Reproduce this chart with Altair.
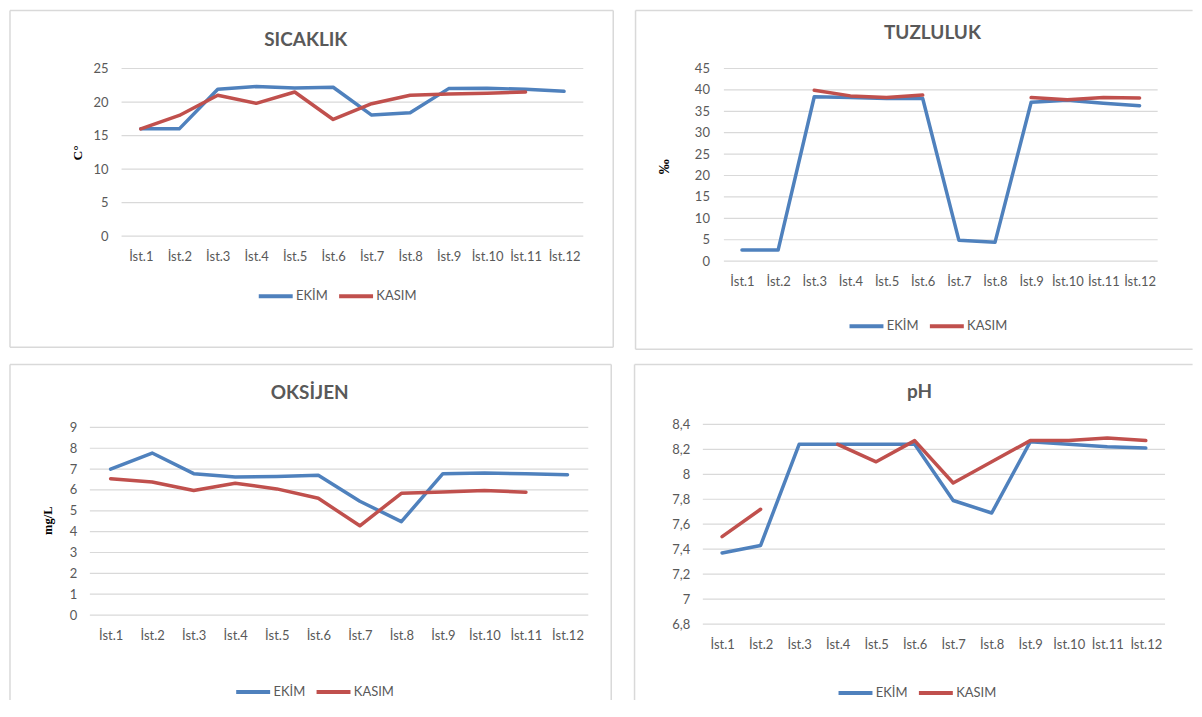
import altair as alt
import pandas as pd

# ---------------- data ----------------
stations = ["İst.1", "İst.2", "İst.3", "İst.4", "İst.5", "İst.6",
            "İst.7", "İst.8", "İst.9", "İst.10", "İst.11", "İst.12"]
series_names = ["EKİM", "KASIM"]

sicaklik_ekim = [16.0, 16.0, 21.9, 22.3, 22.1, 22.2, 18.05, 18.4, 22.0, 22.05, 21.9, 21.6]
sicaklik_kasim = [16.0, 18.0, 21.0, 19.8, 21.5, 17.4, 19.75, 21.0, 21.2, 21.3, 21.5, None]

tuzluluk_ekim = [2.6, 2.6, 38.4, 38.2, 38.0, 38.0, 4.9, 4.4, 37.1, 37.6, 36.9, 36.3]
tuzluluk_kasim = [None, None, 39.9, 38.6, 38.2, 38.8, None, None, 38.2, 37.7, 38.2, 38.1]

oksijen_ekim = [7.0, 7.77, 6.78, 6.62, 6.65, 6.7, 5.46, 4.48, 6.78, 6.81, 6.78, 6.73]
oksijen_kasim = [6.54, 6.38, 5.97, 6.32, 6.05, 5.6, 4.28, 5.84, 5.9, 5.97, 5.89, None]

ph_ekim = [7.37, 7.43, 8.24, 8.24, 8.24, 8.24, 7.79, 7.69, 8.26, 8.24, 8.22, 8.21]
ph_kasim = [7.50, 7.72, None, 8.24, 8.10, 8.27, 7.93, 8.10, 8.27, 8.27, 8.29, 8.27]

sicaklik_ticks = [0, 5, 10, 15, 20, 25]
tuzluluk_ticks = [0, 5, 10, 15, 20, 25, 30, 35, 40, 45]
oksijen_ticks = [0, 1, 2, 3, 4, 5, 6, 7, 8, 9]
ph_ticks = [6.8, 7.0, 7.2, 7.4, 7.6, 7.8, 8.0, 8.2, 8.4]

# ---------------- styles ----------------
BLUE = "#4F81BD"
RED = "#C0504D"
GRID = "#D9D9D9"
BORDER = "#D9D9D9"
TEXT = "#595959"
FONT = "Lato"
SERIF = "Liberation Serif"

one = pd.DataFrame({"k": [0]})


def long_df(ekim, kasim):
    rows = []
    for name, vals in zip(series_names, [ekim, kasim]):
        for st, v in zip(stations, vals):
            rows.append({"station": st, "series": name, "value": v})
    return pd.DataFrame(rows)


def hrule(x1, x2, y):
    return alt.Chart(one).mark_rule(color=BORDER, strokeWidth=1.5).encode(
        x=alt.value(x1), x2=alt.value(x2), y=alt.value(y))


def vrule(x, y1, y2):
    return alt.Chart(one).mark_rule(color=BORDER, strokeWidth=1.5).encode(
        x=alt.value(x), y=alt.value(y1), y2=alt.value(y2))


def panel(df, ticks, view_w, view_h, xrange, yrange, domain, label_pad,
          title, title_xy, ytitle, ytitle_xy, ytitle_size, legend_xy, borders,
          fmt_comma=False):
    label_expr = ("replace(format(datum.value, '.1~f'), '.', ',')" if fmt_comma
                  else "format(datum.value, '~g')")
    axis_kw = dict(values=ticks, grid=False, labelPadding=label_pad, labelExpr=label_expr)
    if ytitle:
        axis_kw.update(title=ytitle, titleX=ytitle_xy[0], titleY=ytitle_xy[1], titleAngle=270,
                       titleAlign="center", titleBaseline="middle", titleFontSize=ytitle_size)
    else:
        axis_kw.update(title=None)
    yscale = alt.Scale(domain=domain, range=yrange, nice=False, zero=False)
    yenc = alt.Y("value:Q", scale=yscale, axis=alt.Axis(**axis_kw))

    grid = alt.Chart(pd.DataFrame({"value": ticks})).mark_rule(
        color=GRID, strokeWidth=1.2
    ).encode(y=yenc, x=alt.value(xrange[0]), x2=alt.value(xrange[1]))

    lines = alt.Chart(df).mark_line(
        strokeWidth=3.5, strokeCap="round", strokeJoin="round",
        invalid="break-paths-show-domains"
    ).encode(
        x=alt.X("station:N", sort=stations, title=None,
                scale=alt.Scale(range=list(xrange)),
                axis=alt.Axis(labelAngle=0, labelOverlap=False, grid=False)),
        y=yenc,
        color=alt.Color("series:N",
                        scale=alt.Scale(domain=series_names, range=[BLUE, RED]),
                        legend=alt.Legend(orient="none", legendX=legend_xy[0], legendY=legend_xy[1],
                                          direction="horizontal", title=None,
                                          symbolType="M-3,0L3,0", symbolSize=128.4,
                                          symbolStrokeWidth=4, labelOffset=12.3,
                                          columnPadding=2.5, padding=0,
                                          labelFont=FONT, labelFontSize=13, labelColor=TEXT)),
    )
    ttl = alt.Chart(one).mark_text(
        text=title, font=FONT, fontSize=19, fontWeight="bold", color=TEXT,
        align="center", baseline="alphabetic"
    ).encode(x=alt.value(title_xy[0]), y=alt.value(title_xy[1]))
    return alt.layer(*borders, grid, ttl, lines).properties(width=view_w, height=view_h)


LEG = 11.33   # legend line starts this far left of legendX
LEGY = 7      # legend line centre sits this far below legendY

p1 = panel(long_df(sicaklik_ekim, sicaklik_kasim), sicaklik_ticks,
           495, 168, (31.75, 494.25), [168, 0], [0, 25], -18.25,
           "SICAKLIK", (216.25, -22.75), "C°", (-12.25, 84), 13.5,
           (166.85 + LEG, 227.25 - LEGY),
           [hrule(-80, 524.25, -58), hrule(-80, 524.25, 279.25),
            vrule(-80, -58, 279.25), vrule(524.25, -58, 279.25)])

p2 = panel(long_df(tuzluluk_ekim, tuzluluk_kasim), tuzluluk_ticks,
           456, 193, (21.1, 455.6), [193, 0], [0, 45], -6.6,
           "TUZLULUK", (230, -29.75), "‰", (-39.4, 98), 15,
           (144.6 + LEG, 257.25 - LEGY),
           [hrule(-67.4, 490.6, -58), hrule(-67.4, 490.6, 281.25), vrule(-67.4, -58, 281.25)])

p3 = panel(long_df(oksijen_ekim, oksijen_kasim), oksijen_ticks,
           500, 191, (0, 499.25), [191, 3], [0, 9], 13,
           "OKSİJEN", (220.25, -25), "mg/L", (-42.75, 96), 12.5,
           (144.25 + LEG, 267 - LEGY),
           [hrule(-80, 522.25, -60), vrule(-80, -60, 276), vrule(522.25, -60, 276)])

p4 = panel(long_df(ph_ekim, ph_kasim), ph_ticks,
           463, 200, (0, 463), [200, 0], [6.8, 8.4], 13,
           "pH", (217, -26), None, None, None,
           (133.6 + LEG, 268 - LEGY),
           [hrule(-68.4, 490.6, -60), vrule(-68.4, -60, 276)], fmt_comma=True)

chart = alt.concat(
    p1, p2, p3, p4, columns=2, align="each",
    spacing={"row": 11.5, "column": 18},
    padding=0, background="white"
).resolve_scale(color="independent").resolve_legend(color="independent").configure_view(
    stroke="transparent"
).configure_axis(
    labelFont=FONT, labelFontSize=13, labelColor=TEXT, domain=False, ticks=False, tickSize=0,
    titleFont=SERIF, titleFontWeight="bold", titleColor="black"
).configure_axisX(labelPadding=14)

chart.save("out.html", embed_options={"renderer": "svg", "actions": False})
